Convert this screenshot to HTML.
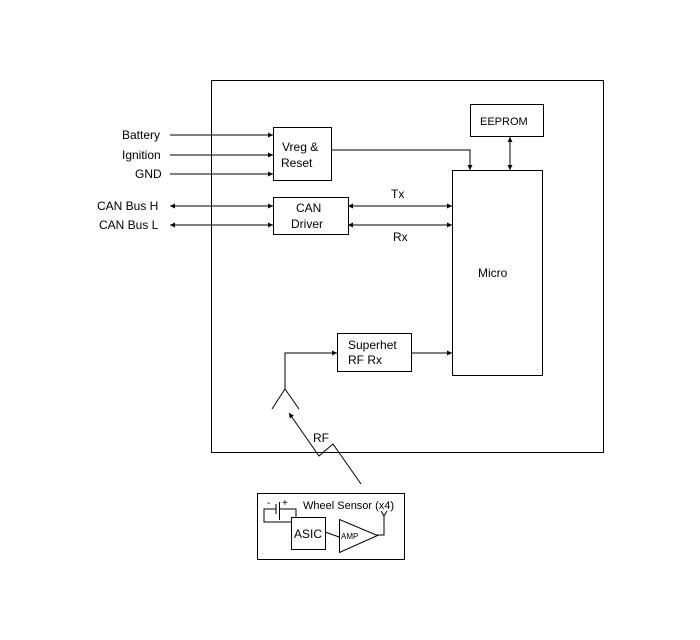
<!DOCTYPE html>
<html><head><style>body{margin:0;background:#fff}svg{display:block}text{font-family:"Liberation Sans",sans-serif;font-size:12px;fill:#000}</style></head><body>
<svg width="700" height="640" viewBox="0 0 700 640">
<defs><marker id="a" viewBox="0 0 10 10" refX="10" refY="5" markerWidth="7" markerHeight="5" orient="auto-start-reverse"><path d="M0,0L10,5L0,10z" fill="#000"/></marker></defs>
<g fill="none" stroke="#000" stroke-width="1">
<rect x="211.5" y="80.5" width="392" height="372"/>
<rect x="273.5" y="127.5" width="58" height="53"/>
<rect x="273.5" y="197.5" width="75" height="37"/>
<rect x="452.5" y="170.5" width="90" height="205"/>
<rect x="470.5" y="104.5" width="73" height="32"/>
<rect x="337.5" y="333.5" width="74" height="38"/>
<rect x="257.5" y="493.5" width="147" height="66"/>
<line x1="170" y1="135" x2="273" y2="135" marker-end="url(#a)"/>
<line x1="170" y1="155" x2="273" y2="155" marker-end="url(#a)"/>
<line x1="170" y1="174" x2="273" y2="174" marker-end="url(#a)"/>
<line x1="170" y1="206" x2="273" y2="206" marker-start="url(#a)" marker-end="url(#a)"/>
<line x1="170" y1="225" x2="273" y2="225" marker-start="url(#a)" marker-end="url(#a)"/>
<line x1="348" y1="206" x2="452" y2="206" marker-start="url(#a)" marker-end="url(#a)"/>
<line x1="348" y1="225" x2="452" y2="225" marker-start="url(#a)" marker-end="url(#a)"/>
<polyline points="331,150 470,150 470,170" marker-end="url(#a)"/>
<line x1="510" y1="137" x2="510" y2="170" marker-start="url(#a)" marker-end="url(#a)"/>
<line x1="411" y1="353" x2="452" y2="353" marker-end="url(#a)"/>
<polyline points="285,389 285,353 337,353" marker-end="url(#a)"/>
<polyline points="272,409 285,389 299,409"/>
<polyline points="361,484 333,444 319,456 289,413" marker-end="url(#a)"/>
<polyline points="276,509 264,509 264,522 291,522"/>
<line x1="276" y1="504" x2="276" y2="514"/>
<line x1="279.5" y1="502" x2="279.5" y2="520"/>
<polyline points="279,509 296,509 296,517"/>
<rect x="291.5" y="517.5" width="34" height="32"/>
<line x1="325" y1="532" x2="339" y2="537"/>
<polygon points="339.5,519.5 339.5,552.5 377.5,535.5"/>
<polyline points="377,535 384,535 384,515"/>
<polyline points="381,511 384,516 387,511"/>
</g>
<text x="122" y="139">Battery</text>
<text x="122" y="159">Ignition</text>
<text x="135" y="178">GND</text>
<text x="97" y="210">CAN Bus H</text>
<text x="99" y="229">CAN Bus L</text>
<text x="282" y="151">Vreg &amp;</text>
<text x="281" y="167">Reset</text>
<text x="296" y="212">CAN</text>
<text x="291" y="228">Driver</text>
<text x="391" y="198">Tx</text>
<text x="393" y="241">Rx</text>
<text x="480" y="125" style="font-size:11px">EEPROM</text>
<text x="478" y="277">Micro</text>
<text x="348" y="349">Superhet</text>
<text x="348" y="364">RF Rx</text>
<text x="313" y="442">RF</text>
<text x="303" y="509" style="font-size:11px">Wheel Sensor (x4)</text>
<text x="267" y="506" style="font-size:10px">-</text><text x="282" y="506" style="font-size:10px">+</text>
<text x="294" y="538">ASIC</text>
<text x="341" y="539" style="font-size:8px">AMP</text>
</svg></body></html>
